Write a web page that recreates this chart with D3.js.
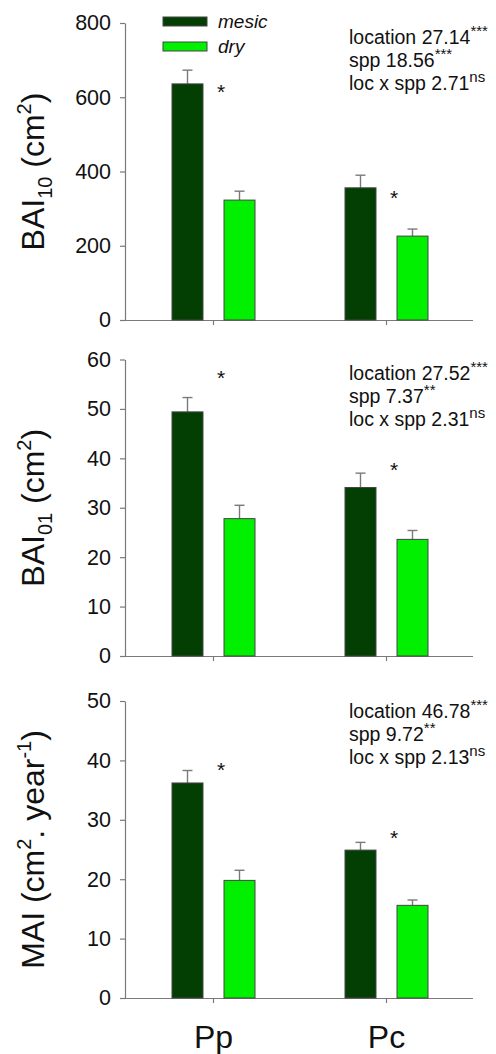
<!DOCTYPE html>
<html>
<head>
<meta charset="utf-8">
<script src="https://cdn.jsdelivr.net/npm/d3@7"></script>
<style>
  body { margin: 0; background: #fff; }
  svg { display: block; font-family: "Liberation Sans", Arial, sans-serif; }
</style>
</head>
<body>
<div class="canvas"></div>
<script>
// data
const categories = ['Pp', 'Pc'];
const sites = ['mesic', 'dry'];

const bai10Mesic = [636, 356];
const bai10MesicSE = [37, 34];
const bai10Dry = [323, 226];
const bai10DrySE = [24, 19];
const bai10Ticks = [0, 200, 400, 600, 800];
const bai10Stars = [628, 342];
const bai10Stats = [['location 27.14', '***'], ['spp 18.56', '***'], ['loc x spp 2.71', 'ns']];

const bai01Mesic = [49.4, 34.1];
const bai01MesicSE = [2.9, 2.9];
const bai01Dry = [27.8, 23.6];
const bai01DrySE = [2.7, 1.8];
const bai01Ticks = [0, 10, 20, 30, 40, 50, 60];
const bai01Stars = [57.3, 38.6];
const bai01Stats = [['location 27.52', '***'], ['spp 7.37', '**'], ['loc x spp 2.31', 'ns']];

const maiMesic = [36.2, 24.9];
const maiMesicSE = [2.1, 1.3];
const maiDry = [19.8, 15.6];
const maiDrySE = [1.7, 0.9];
const maiTicks = [0, 10, 20, 30, 40, 50];
const maiStars = [39.2, 27.8];
const maiStats = [['location 46.78', '***'], ['spp 9.72', '**'], ['loc x spp 2.13', 'ns']];

const colors = {mesic: '#033f03', dry: '#00f000'};
const axisColor = '#7a7a7a';
const textColor = '#111';

const svg = d3.select('.canvas')
    .append('svg')
    .attr('width', 496)
    .attr('height', 1054);

const x = d3.scaleBand()
    .domain(categories)
    .range([127, 473]);

const xSite = d3.scaleBand()
    .domain(sites)
    .range([45, 128])
    .paddingInner(0.404);

// label parts: [text, 'base' | 'sub' | 'sup']
const panels = [
    {top: 23, bottom: 320, max: 800, ticks: bai10Ticks, mesic: bai10Mesic, mesicSE: bai10MesicSE,
     dry: bai10Dry, drySE: bai10DrySE, stars: bai10Stars, stats: bai10Stats, statsY: 44,
     label: [['BAI', 'base'], ['10', 'sub'], [' (cm', 'base'], ['2', 'sup'], [')', 'base']]},
    {top: 359.5, bottom: 656, max: 60, ticks: bai01Ticks, mesic: bai01Mesic, mesicSE: bai01MesicSE,
     dry: bai01Dry, drySE: bai01DrySE, stars: bai01Stars, stats: bai01Stats, statsY: 380,
     label: [['BAI', 'base'], ['01', 'sub'], [' (cm', 'base'], ['2', 'sup'], [')', 'base']]},
    {top: 701, bottom: 998, max: 50, ticks: maiTicks, mesic: maiMesic, mesicSE: maiMesicSE,
     dry: maiDry, drySE: maiDrySE, stars: maiStars, stats: maiStats, statsY: 718,
     label: [['MAI (cm', 'base'], ['2', 'sup'], ['. year', 'base'], ['-1', 'sup'], [')', 'base']]}
];

panels.forEach((p, k) => {
    const g = svg.append('g');

    const y = d3.scaleLinear()
        .domain([0, p.max])
        .range([p.bottom, p.top]);

    // y axis
    const yAxis = d3.axisLeft(y)
        .tickValues(p.ticks)
        .tickSize(5)
        .tickSizeOuter(0)
        .tickPadding(9);

    const ya = g.append('g')
        .attr('transform', 'translate(125,0)')
        .call(yAxis);
    ya.select('.domain').attr('stroke', axisColor).attr('stroke-width', 1.2);
    ya.selectAll('.tick line').attr('stroke', axisColor).attr('stroke-width', 1.2);
    ya.selectAll('.tick text')
        .attr('fill', textColor)
        .style('font-size', '21.5px')
        .attr('font-family', null);

    // x axis line with category ticks
    const xAxis = d3.axisBottom(x)
        .tickSize(5)
        .tickSizeOuter(0)
        .tickFormat('');
    const xa = g.append('g')
        .attr('transform', `translate(0,${p.bottom})`)
        .call(xAxis);
    xa.select('.domain')
        .attr('d', `M${125 - 4},0.5H${473}`)
        .attr('stroke', axisColor).attr('stroke-width', 1.2);
    xa.selectAll('.tick line').attr('stroke', axisColor).attr('stroke-width', 1.2);

    // bars
    const rows = [];
    categories.forEach((c, i) => {
        rows.push({cat: c, site: 'mesic', value: p.mesic[i], se: p.mesicSE[i]});
        rows.push({cat: c, site: 'dry', value: p.dry[i], se: p.drySE[i]});
    });

    const bx = d => x(d.cat) + xSite(d.site);

    // error bars (upper only), drawn behind bars
    const err = g.append('g').selectAll('g')
        .data(rows)
        .enter()
        .append('g')
        .attr('stroke', axisColor)
        .attr('stroke-width', 1.4);
    err.append('line')
        .attr('x1', d => bx(d) + xSite.bandwidth() / 2)
        .attr('x2', d => bx(d) + xSite.bandwidth() / 2)
        .attr('y1', d => y(d.value))
        .attr('y2', d => y(d.value + d.se));
    err.append('line')
        .attr('x1', d => bx(d) + xSite.bandwidth() / 2 - 5)
        .attr('x2', d => bx(d) + xSite.bandwidth() / 2 + 5)
        .attr('y1', d => y(d.value + d.se))
        .attr('y2', d => y(d.value + d.se));

    g.append('g').selectAll('rect')
        .data(rows)
        .enter()
        .append('rect')
        .attr('x', bx)
        .attr('y', d => y(d.value))
        .attr('width', xSite.bandwidth())
        .attr('height', d => p.bottom - y(d.value))
        .attr('fill', d => colors[d.site])
        .attr('stroke', '#444')
        .attr('stroke-width', 1);

    // significance stars
    g.append('g').selectAll('text')
        .data(categories)
        .enter()
        .append('text')
        .attr('x', d => x(d) + xSite('mesic') + xSite.bandwidth() + 18)
        .attr('y', (d, i) => y(p.stars[i]) + 12)
        .attr('text-anchor', 'middle')
        .attr('fill', textColor)
        .style('font-size', '21px')
        .text('*');

    // ANOVA stats text
    const stats = g.append('g').selectAll('text')
        .data(p.stats)
        .enter()
        .append('text')
        .attr('x', 349)
        .attr('y', (d, i) => p.statsY + i * 23)
        .attr('fill', textColor)
        .style('font-size', '19.5px');
    stats.append('tspan').text(d => d[0]);
    stats.append('tspan')
        .attr('dy', -8)
        .style('font-size', '15px')
        .text(d => d[1]);

    // y axis title
    const title = g.append('text')
        .attr('transform', `translate(44,${(p.top + p.bottom) / 2}) rotate(-90)`)
        .attr('text-anchor', 'middle')
        .attr('fill', textColor)
        .style('font-size', '32px');
    let shift = 0;
    p.label.forEach(([t, kind]) => {
        const target = kind === 'sub' ? 8 : kind === 'sup' ? -13 : 0;
        title.append('tspan')
            .attr('dy', target - shift)
            .style('font-size', kind === 'base' ? '32px' : '20px')
            .text(t);
        shift = target;
    });

    // category labels on the last panel
    if (k === panels.length - 1) {
        g.append('g').selectAll('text')
            .data(categories)
            .enter()
            .append('text')
            .attr('x', d => x(d) + x.bandwidth() / 2)
            .attr('y', 1048)
            .attr('text-anchor', 'middle')
            .attr('fill', textColor)
            .style('font-size', '32px')
            .text(d => d);
    }
});

// legend
const legend = svg.append('g').selectAll('g')
    .data(sites)
    .enter()
    .append('g')
    .attr('transform', (d, i) => `translate(163,${17 + i * 25})`);

legend.append('rect')
    .attr('width', 44)
    .attr('height', 9)
    .attr('fill', d => colors[d])
    .attr('stroke', '#444')
    .attr('stroke-width', 1);

legend.append('text')
    .attr('x', 55)
    .attr('y', 11)
    .attr('fill', textColor)
    .style('font-size', '19px')
    .style('font-style', 'italic')
    .text(d => d);
</script>
</body>
</html>
